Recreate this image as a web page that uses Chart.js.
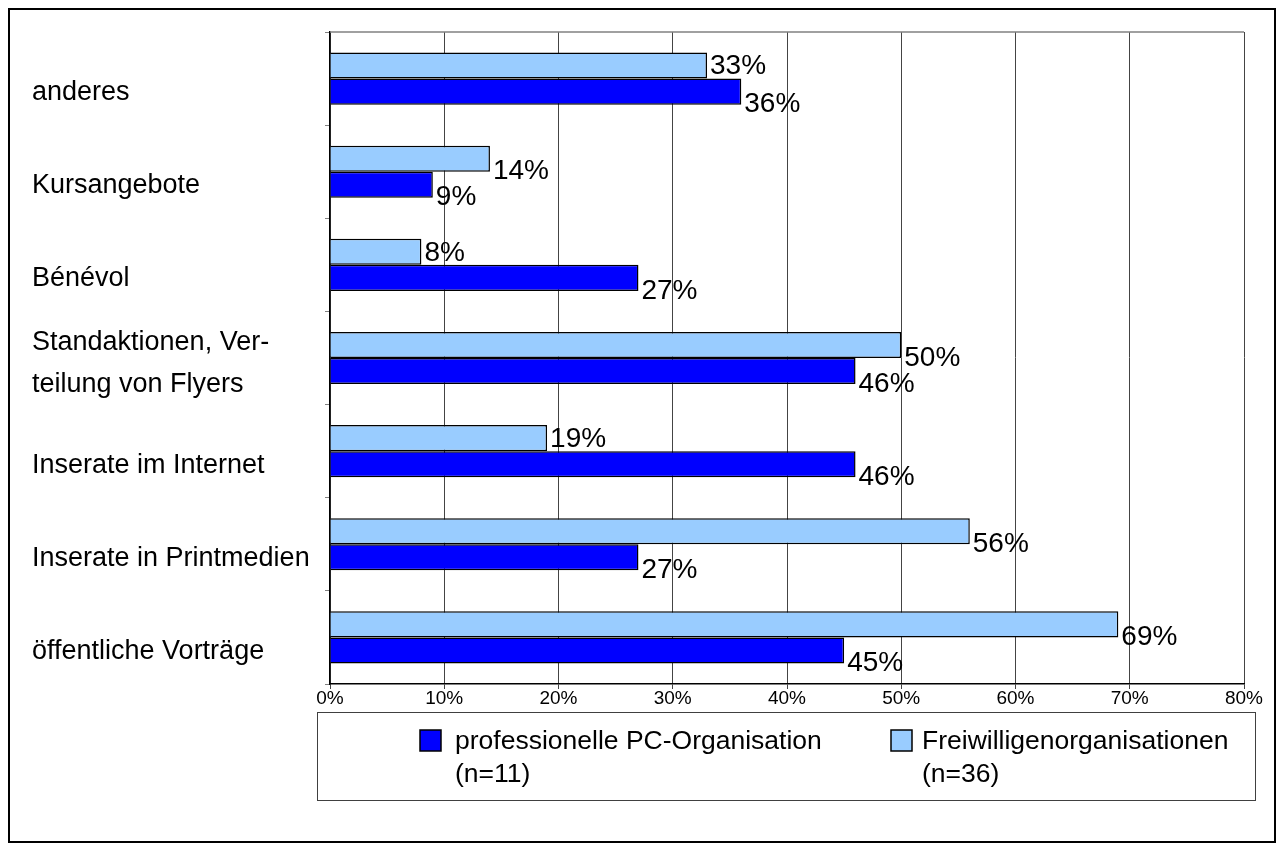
<!DOCTYPE html>
<html><head><meta charset="utf-8">
<script src="https://cdn.jsdelivr.net/npm/chart.js@4.4.1/dist/chart.umd.min.js"></script>
<style>html,body{margin:0;padding:0;background:#fff}canvas{display:block}</style>
</head><body>
<canvas id="c" width="1282" height="848"></canvas>
<script>
const categories = ['anderes','Kursangebote','Bénévol',['Standaktionen, Ver-','teilung von Flyers'],'Inserate im Internet','Inserate in Printmedien','öffentliche Vorträge'];
const freiwilligen = [33,14,8,50,19,56,69];
const professionelle = [36,9,27,46,46,27,45];
const tickValues = [0,10,20,30,40,50,60,70,80];
const seriesNames = ['Freiwilligenorganisationen','professionelle PC-Organisation'];
const seriesNotes = ['(n=36)','(n=11)'];
const FONT = "'Liberation Sans', Arial, sans-serif";
const LIGHT = '#99CCFF', DARK = '#0000FF';

const dataLabels = {
  id:'dataLabels',
  afterDatasetsDraw(chart){
    const ctx = chart.ctx;
    ctx.save();
    ctx.font = '28px ' + FONT;
    ctx.fillStyle = '#000';
    ctx.textAlign = 'left';
    ctx.textBaseline = 'middle';
    const metas = chart.data.datasets.map((d,i)=>chart.getDatasetMeta(i));
    chart.data.datasets.forEach((ds,di)=>{
      metas[di].data.forEach((bar,i)=>{
        const p = bar.getProps(['x','y','height'], true);
        const tx = p.x + 3;
        let ty = p.y + 13;
        const next = metas[di+1] ? metas[di+1].data[i] : null;
        if (next) {
          const nx = next.getProps(['x'], true).x;
          if (tx < nx) ty = p.y + 1;
        }
        ctx.fillText(ds.data[i] + '%', tx, ty);
      });
    });
    ctx.restore();
  }
};

const catLabels = {
  id:'catLabels',
  afterDraw(chart){
    const ctx = chart.ctx;
    const ys = chart.scales.y;
    ctx.save();
    ctx.font = '27px ' + FONT;
    ctx.fillStyle = '#000';
    ctx.textAlign = 'left';
    ctx.textBaseline = 'middle';
    chart.data.labels.forEach((lab,i)=>{
      const lines = Array.isArray(lab) ? lab : [lab];
      const n = lines.length;
      const c = ys.getPixelForValue(i) + 14 - (n-1)*8;
      lines.forEach((t,k)=>{
        ctx.fillText(t, 32, c + (k - (n-1)/2)*42);
      });
    });
    ctx.restore();
  }
};

const decor = {
  id:'decor',
  afterDraw(chart){
    const ctx = chart.ctx;
    const a = chart.chartArea;
    ctx.save();
    ctx.strokeStyle = '#808080';
    ctx.lineWidth = 1.5;
    ctx.beginPath(); ctx.moveTo(a.left, a.top); ctx.lineTo(a.right, a.top); ctx.stroke();
    ctx.strokeStyle = '#000';
    ctx.lineWidth = 2;
    ctx.strokeRect(9, 9, 1266, 833);
    ctx.strokeStyle = '#404040';
    ctx.lineWidth = 1;
    ctx.strokeRect(317.5, 712.5, 938, 88);
    const items = [
      {color: DARK, name: seriesNames[1], note: seriesNotes[1], x: 420, tx: 455},
      {color: LIGHT, name: seriesNames[0], note: seriesNotes[0], x: 891, tx: 922}
    ];
    ctx.font = '26.5px ' + FONT;
    ctx.textBaseline = 'middle';
    ctx.textAlign = 'left';
    items.forEach(it=>{
      ctx.fillStyle = it.color;
      ctx.fillRect(it.x, 730, 21, 21);
      ctx.strokeStyle = '#000';
      ctx.lineWidth = 1.5;
      ctx.strokeRect(it.x, 730, 21, 21);
      ctx.fillStyle = '#000';
      ctx.fillText(it.name, it.tx, 742);
      ctx.fillText(it.note, it.tx, 775);
    });
    ctx.restore();
  }
};

new Chart(document.getElementById('c').getContext('2d'), {
  type:'bar',
  data:{
    labels: categories,
    datasets:[
      {label: seriesNames[0], data: freiwilligen, backgroundColor: LIGHT, borderColor:'#000', borderWidth:1.5, categoryPercentage:0.56, barPercentage:1},
      {label: seriesNames[1], data: professionelle, backgroundColor: DARK, borderColor:'#000', borderWidth:1.5, categoryPercentage:0.56, barPercentage:1}
    ]
  },
  options:{
    indexAxis:'y',
    responsive:false,
    animation:false,
    layout:{padding:{left:32, right:38, top:32, bottom:0}},
    plugins:{legend:{display:false}, tooltip:{enabled:false}},
    scales:{
      x:{
        min:0, max:80,
        afterBuildTicks: s => { s.ticks = tickValues.map(v => ({value:v})); },
        ticks:{callback: v => v + '%', font:{family:FONT, size:19}, color:'#000', padding:-2, maxRotation:0, autoSkip:false},
        grid:{color:'#444', lineWidth:1, tickLength:5},
        border:{color:'#000', width:1.5},
        afterFit: s => { s.height = 164; }
      },
      y:{
        ticks:{display:false},
        grid:{drawOnChartArea:false, tickLength:5, color:'#808080', offset:true},
        border:{color:'#000', width:1.5},
        afterFit: s => { s.width = 298; }
      }
    }
  },
  plugins:[dataLabels, catLabels, decor]
});
</script>
</body></html>
